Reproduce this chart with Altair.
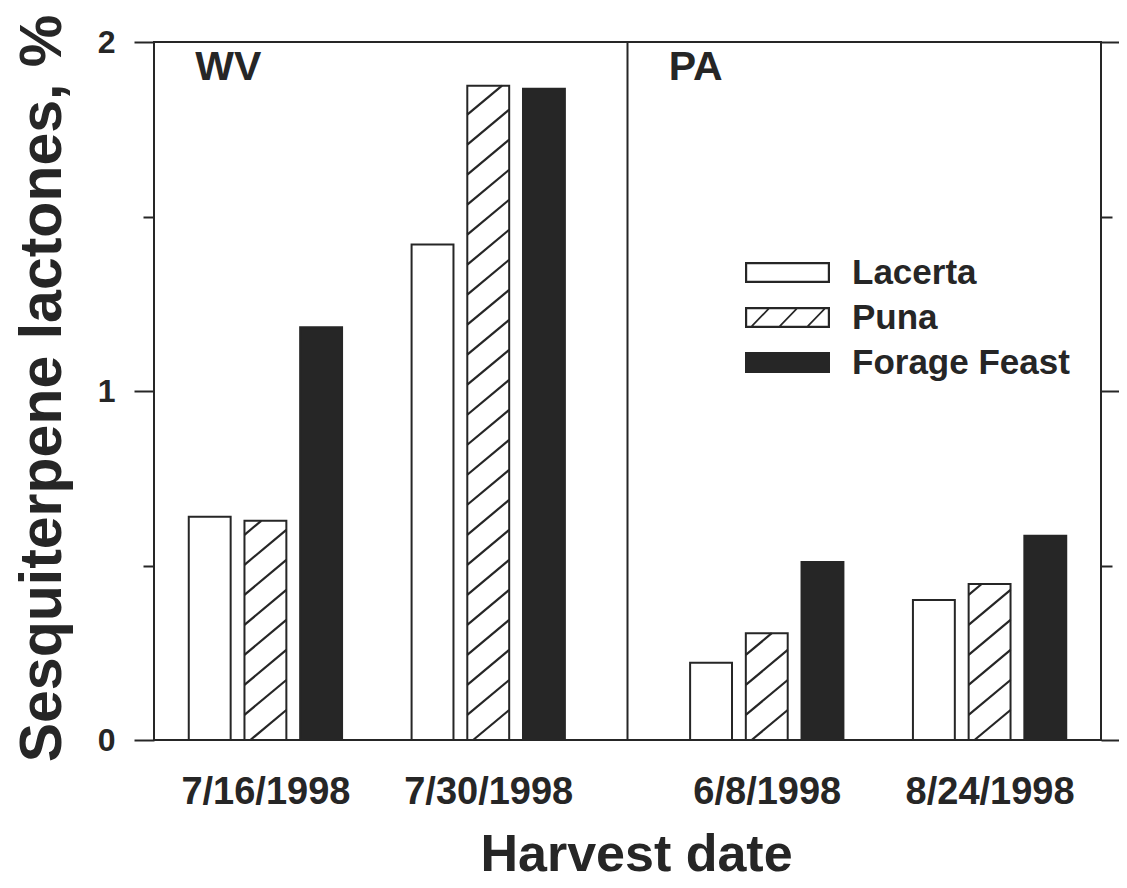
import altair as alt
import pandas as pd

# ---------------- data ----------------
dates = ["7/16/1998", "7/30/1998", "6/8/1998", "8/24/1998"]
sites = ["WV", "WV", "PA", "PA"]
site_names = ["WV", "PA"]
varieties = ["Lacerta", "Puna", "Forage Feast"]
lacerta = [0.640, 1.420, 0.221, 0.401]
puna = [0.628, 1.875, 0.306, 0.447]
forage = [1.183, 1.866, 0.510, 0.585]

y_title = "Sesquiterpene lactones, %"
x_title = "Harvest date"

# ---------------- style / layout ----------------
INK = "#262626"
FONT = "Liberation Sans"
GAP = 0.25        # extra gap between the two sites (in group steps)
STEP = 0.25       # distance between bars inside a group
BW = 0.188        # bar width
XMAX = 4 + GAP
DIV = 2 + GAP / 2
RISE = 0.10       # hatch rise across a bar (y units)
SPACING = 0.086   # hatch spacing (y units)
PHASE = -0.014
LABEL_OFF = 0.185

rows = []
series = [lacerta, puna, forage]
for gi, (d, s) in enumerate(zip(dates, sites)):
    for vi, v in enumerate(varieties):
        rows.append({"date": d, "site": s, "variety": v,
                     "value": series[vi][gi], "gi": gi, "vi": vi})
df = pd.DataFrame(rows)

centers = [gi + 0.5 + (GAP if s == "PA" else 0) for gi, s in enumerate(sites)]
label_expr = ""
for c, d in zip(centers[:-1], dates[:-1]):
    label_expr += f"datum.value < {c + 0.5} ? '{d}' : "
label_expr += f"'{dates[-1]}'"

xscale = alt.Scale(domain=[0, XMAX], nice=False, zero=False)
yscale = alt.Scale(domain=[0, 2], nice=False, zero=False)
ink_scale = alt.Scale(domain=varieties, range=[INK, INK, INK])

# ---- legend symbol shapes (box 85 x 21 px, drawn as filled outlines) ----
SYM = 36.0                 # legend symbol "size" in px (sqrt of area)
U = SYM / 2                # px per path unit
BOX_W, BOX_H, LINE = 85.0, 21.0, 2.2

def pt(x, y):
    return f"{(x - BOX_W / 2) / U:.4f},{(y - BOX_H / 2) / U:.4f}"

def rect_path(x0, y0, x1, y1, reverse=False):
    if not reverse:
        return f"M{pt(x0, y0)}L{pt(x1, y0)}L{pt(x1, y1)}L{pt(x0, y1)}Z"
    return f"M{pt(x0, y0)}L{pt(x0, y1)}L{pt(x1, y1)}L{pt(x1, y0)}Z"

FRAME = rect_path(0, 0, BOX_W, BOX_H) + rect_path(LINE, LINE, BOX_W - LINE, BOX_H - LINE, True)
SOLID = rect_path(0, 0, BOX_W, BOX_H)
slashes = ""
for xb in [6, 34, 62]:
    slashes += (f"M{pt(xb, BOX_H - LINE)}L{pt(xb + 2.4, BOX_H - LINE)}"
                f"L{pt(xb + 18.4, LINE)}L{pt(xb + 16, LINE)}Z")
shape_scale = alt.Scale(domain=varieties, range=[FRAME, FRAME + slashes, SOLID])

x_axis = alt.Axis(values=centers, labelExpr=label_expr, ticks=False, tickSize=0,
                  domain=False, grid=False, labelFont=FONT, labelFontSize=38,
                  labelFontWeight="bold", labelColor=INK, labelPadding=63,
                  labelBaseline="alphabetic", labelFlush=False, labelOverlap=False,
                  title=x_title, titleFont=FONT, titleFontSize=52,
                  titleFontWeight="bold", titleColor=INK, titleX=482, titleY=130,
                  titleBaseline="alphabetic", titleAlign="center")

def y_axis(orient, values, size, labels=False, title=None):
    kw = dict(orient=orient, values=values, tickSize=size, tickWidth=2,
              tickColor=INK, domain=False, grid=False, labels=labels)
    if labels:
        kw.update(labelFont=FONT, labelFontSize=32, labelFontWeight="bold",
                  labelColor=INK, labelPadding=19, labelOverlap=False,
                  labelExpr="toString(datum.value)")
    if title:
        kw.update(title=title, titleFont=FONT, titleFontSize=59,
                  titleFontWeight="bold", titleColor=INK, titleX=-94, titleY=346,
                  titleAngle=270, titleBaseline="alphabetic", titleAlign="center")
    else:
        kw.update(title=None)
    return alt.Axis(**kw)

legend = alt.Legend(title=None, orient="none", legendX=615.5, legendY=212.5,
                    symbolSize=SYM * SYM, symbolStrokeWidth=0, symbolOpacity=1,
                    labelFont=FONT, labelFontSize=35, labelFontWeight="bold",
                    labelColor=INK, labelOffset=46.5, rowPadding=9, padding=0,
                    labelLimit=400)

base = (alt.Chart(df)
        .transform_calculate(xc=f"datum.gi + 0.5 + (datum.site == 'PA' ? {GAP} : 0)"
                                f" + (datum.vi - 1) * {STEP}")
        .transform_calculate(xl=f"datum.xc - {BW / 2}")
        .transform_calculate(xr=f"datum.xc + {BW / 2}"))

bars = base.mark_rect(stroke=INK, strokeWidth=2).encode(
    x=alt.X("xl:Q", scale=xscale, axis=x_axis),
    x2="xr:Q",
    y=alt.Y("value:Q", scale=yscale, axis=y_axis("right", [0, 1, 2], 18)),
    y2=alt.Y2("zero:Q"),
    fill=alt.condition(f"datum.variety == '{varieties[2]}'", alt.value(INK),
                       alt.value("white")),
).transform_calculate(zero="0")

hatch = (base.transform_filter(f"datum.variety == '{varieties[1]}'")
         .transform_calculate(k="sequence(0, 25)")
         .transform_flatten(["k"])
         .transform_calculate(yb=f"{PHASE} + {SPACING} * datum.k")
         .transform_filter(f"datum.yb < datum.value && datum.yb + {RISE} > 0")
         .transform_calculate(ys="max(datum.yb, 0)")
         .transform_calculate(ye=f"min(datum.yb + {RISE}, datum.value)")
         .transform_calculate(xs=f"datum.xl + (datum.ys - datum.yb) / {RISE} * (datum.xr - datum.xl)")
         .transform_calculate(xe=f"datum.xl + (datum.ye - datum.yb) / {RISE} * (datum.xr - datum.xl)")
         .mark_rule(stroke=INK, strokeWidth=2.2)
         .encode(x=alt.X("xs:Q", scale=xscale, axis=None), x2="xe:Q",
                 y=alt.Y("ys:Q", scale=yscale, axis=y_axis("left", [0.5, 1.5], 11)),
                 y2="ye:Q"))

divider = alt.Chart(pd.DataFrame({"boundary": ["WV|PA"]})).mark_rule(
    stroke=INK, strokeWidth=2).encode(x=alt.XDatum(DIV, scale=xscale, axis=None))

site_text = (alt.Chart(pd.DataFrame({"site": site_names}))
             .transform_calculate(lx=f"datum.site == 'PA' ? {DIV + LABEL_OFF} : {LABEL_OFF}",
                                  ly="1.89")
             .mark_text(align="left", baseline="alphabetic", font=FONT, fontSize=41,
                        fontWeight="bold", color=INK)
             .encode(x=alt.X("lx:Q", scale=xscale, axis=None),
                     y=alt.Y("ly:Q", scale=yscale,
                             axis=y_axis("left", [0, 1, 2], 20, True, y_title)),
                     text="site:N"))

# invisible point layer that carries the legend (colour + custom symbol shapes)
legend_layer = (base.mark_point(filled=True, strokeWidth=0, opacity=0)
                .encode(x=alt.X("xl:Q", scale=xscale, axis=None),
                        y=alt.Y("value:Q", scale=yscale,
                                axis=y_axis("right", [0.5, 1.5], 11)),
                        shape=alt.Shape("variety:N", scale=shape_scale, legend=legend),
                        color=alt.Color("variety:N", scale=ink_scale, legend=legend)))

chart = (alt.layer(bars, hatch, divider, site_text, legend_layer)
         .resolve_axis(x="independent", y="independent")
         .properties(width=947, height=698,
                     autosize=alt.AutoSizeParams(type="none"),
                     padding={"left": 146, "top": 34, "right": 18, "bottom": 140})
         .configure_view(stroke=INK, strokeWidth=2)
         .configure_axis(grid=False))

chart.save("out.html", embed_options={"renderer": "svg", "actions": False})
